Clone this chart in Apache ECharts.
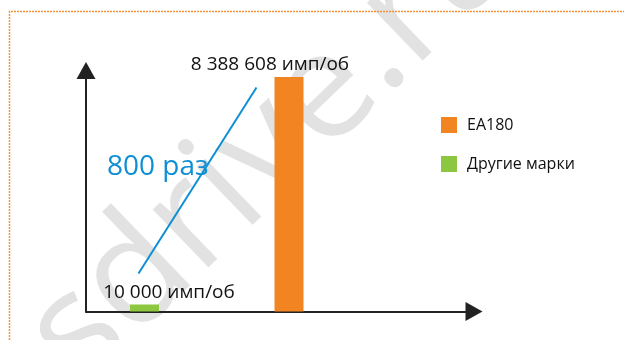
<!DOCTYPE html>
<html>
<head>
<meta charset="utf-8">
<script src="https://cdn.jsdelivr.net/npm/echarts@6/dist/echarts.min.js"></script>
<style>
  html, body { margin: 0; padding: 0; background: #fff; }
  #chart { width: 624px; height: 340px; }
</style>
</head>
<body>
<div id="chart"></div>
<script>
const categories = ['Другие марки', 'EA180'];
const ea180Values = [null, 8388608];
const otherValues = [10000, null];
const unitText = ' имп/об';
const ratioText = '800 раз';
const watermarkText = 'sdrive.ru';

const font = '"Open Sans", "Noto Sans", sans-serif';

function fmt(v) {
  return String(v).replace(/\B(?=(\d{3})+(?!\d))/g, ' ') + unitText;
}

const chart = echarts.init(document.getElementById('chart'));

const axisLine = {
  show: true,
  symbol: ['none', 'triangle'],
  symbolSize: [19, 17],
  lineStyle: { color: '#222', width: 2 }
};

const option = {
  animation: false,
  textStyle: { fontFamily: font },
  grid: [
    { left: 86, right: 150, top: 70.5, bottom: 28.5 },
    { left: 72.25, width: 289, top: 77, bottom: 28.5 }
  ],
  xAxis: [
    { gridIndex: 0, type: 'value', min: 0, max: 1, axisLine: axisLine,
      axisTick: { show: false }, axisLabel: { show: false }, splitLine: { show: false } },
    { gridIndex: 1, type: 'category', data: categories, show: false }
  ],
  yAxis: [
    { gridIndex: 0, type: 'value', min: 0, max: 1, axisLine: axisLine,
      axisTick: { show: false }, axisLabel: { show: false }, splitLine: { show: false } },
    { gridIndex: 1, type: 'value', min: 0, max: 'dataMax', show: false }
  ],
  legend: {
    data: ['EA180', 'Другие марки'],
    orient: 'vertical',
    left: 436,
    top: 112,
    icon: 'rect',
    itemWidth: 16,
    itemHeight: 16,
    itemGap: 23,
    textStyle: { fontSize: 16, color: '#111', fontFamily: font, padding: [0, 0, 0, 5] }
  },
  series: [
    {
      name: 'EA180',
      type: 'bar',
      xAxisIndex: 1,
      yAxisIndex: 1,
      stack: 'all',
      barWidth: 29,
      data: ea180Values,
      itemStyle: { color: '#f28522' },
      label: {
        show: true, position: 'top', distance: 2.5, offset: [-19, 0],
        fontSize: 19, color: '#111', fontFamily: font,
        formatter: p => fmt(p.value)
      },
      z: 3
    },
    {
      name: 'Другие марки',
      type: 'bar',
      xAxisIndex: 1,
      yAxisIndex: 1,
      stack: 'all',
      barWidth: 29,
      barMinHeight: 7,
      data: otherValues,
      itemStyle: { color: '#8dc63f' },
      label: {
        show: true, position: 'top', distance: 2.5, offset: [24.5, 0],
        fontSize: 19, color: '#111', fontFamily: font,
        formatter: p => fmt(p.value)
      },
      z: 3
    }
  ],
  graphic: [
    {
      type: 'text', silent: true, z: -10,
      x: 0, y: 305, rotation: 44 * Math.PI / 180,
      style: { text: watermarkText, fill: '#e2e2e2', font: '150px ' + font, textVerticalAlign: 'alphabetic' }
    },
    {
      type: 'polyline', silent: true, z: 10,
      shape: { points: [[9.5, 340], [9.5, 11.5], [624, 11.5]] },
      style: { fill: null, stroke: '#f4943a', lineWidth: 1.5, lineDash: [2, 1] }
    },
    {
      type: 'line', silent: true, z: 5,
      shape: { x1: 138.5, y1: 273.5, x2: 256.5, y2: 87.5 },
      style: { stroke: '#0e8fd4', lineWidth: 2 }
    },
    {
      type: 'text', silent: true, z: 5,
      x: 107, y: 153,
      style: { text: ratioText, fill: '#0e8fd4', font: '28px ' + font, textVerticalAlign: 'alphabetic' }
    }
  ]
};

chart.setOption(option);
</script>
</body>
</html>
